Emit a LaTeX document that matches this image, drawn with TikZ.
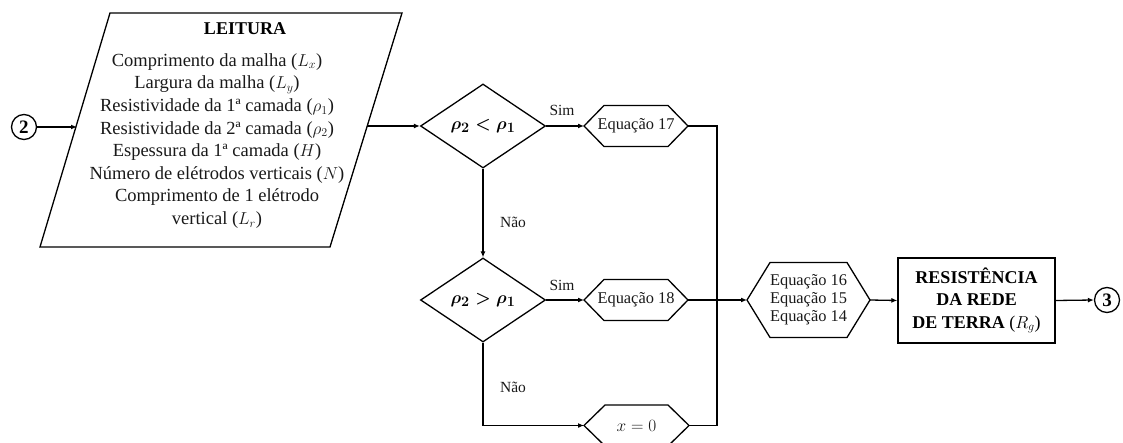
\documentclass[tikz,border=0pt]{standalone}
\usepackage{amsmath}
\usepackage{fontspec}
\setmainfont{Liberation Serif}
\usetikzlibrary{shapes.geometric,arrows.meta}

\tikzset{
  flow/.style={line width=1.3pt, draw=black},
  arrow/.style={flow, -{Latex[length=6pt,width=5pt]}},
  decision/.style={diamond, draw, line width=1.3pt, minimum width=125pt,
    minimum height=84pt, inner sep=0pt, aspect=1.49, font=\fontsize{19}{22}\selectfont\boldmath},
  process/.style={rectangle, inner sep=0pt, outer sep=0pt, text=black!90,
    font=\fontsize{16.4}{18}\selectfont, align=center},
  result/.style={rectangle, draw, line width=1.3pt, minimum width=157pt,
    minimum height=85pt, inner sep=0pt, align=center,
    font=\fontsize{18}{22.5}\selectfont\bfseries},
  connector/.style={circle, draw, line width=1.3pt, minimum size=25pt,
    inner sep=0pt, font=\fontsize{19}{22}\selectfont\bfseries},
  branch/.style={text=black!90, font=\fontsize{15.5}{18}\selectfont},
}

% hexagonal outline around a named node, #2 = depth of the pointed ends
\newcommand{\hexframe}[2]{%
  \draw[flow] (#1.west) -- ([xshift=#2]#1.north west) -- ([xshift=-#2]#1.north east)
    -- (#1.east) -- ([xshift=-#2]#1.south east) -- ([xshift=#2]#1.south west) -- cycle;}

\begin{document}
\begin{tikzpicture}[x=1pt,y=-1pt]
\useasboundingbox (0,0) rectangle (1123,443);

% input block (parallelogram)
\coordinate (pTL) at (110,13);
\coordinate (pTR) at (402,13);
\coordinate (pBR) at (330,247);
\coordinate (pBL) at (40,247);
\draw[flow] (pTL) -- (pTR) -- (pBR) -- (pBL) -- cycle;
\coordinate (inL) at (77,127);
\coordinate (inR) at (367,126);
\node[anchor=base, font=\fontsize{18}{22}\selectfont\bfseries] (title) at (245,35) {LEITURA};
\node[align=center, inner sep=0pt, text=black!90, font=\fontsize{18.5}{22.6}\selectfont] (data) at (217,141)
  {Comprimento da malha ($L_x$)\\
   Largura da malha ($L_y$)\\
   Resistividade da 1ª camada ($\rho_1$)\\
   Resistividade da 2ª camada ($\rho_2$)\\
   Espessura da 1ª camada ($H$)\\
   Número de elétrodos verticais ($N$)\\
   Comprimento de 1 elétrodo\\
   vertical ($L_r$)};

% connectors
\node[connector] (c2) at (24,127) {2};
\node[connector] (c3) at (1107,300) {3};

% decisions
\node[decision] (d1) at (483,126) {$\rho_2 < \rho_1$};
\node[decision] (d2) at (483,300) {$\rho_2 > \rho_1$};

% equation blocks
\node[process, minimum width=104pt, minimum height=41pt] (e17) at (636,126) {Equação 17};
\node[process, minimum width=104pt, minimum height=41pt] (e18) at (636,300) {Equação 18};
\node[process, minimum width=105pt, minimum height=41pt] (x0) at (636.5,425.5) {$x = 0$};
\node[process, minimum width=123pt, minimum height=75pt] (e3) at (808.5,300) {Equação 16\\Equação 15\\Equação 14};
\hexframe{e17}{20pt}
\hexframe{e18}{20pt}
\hexframe{x0}{21pt}
\hexframe{e3}{23pt}

% result block
\node[result] (rg) at (976.5,300.5) {RESISTÊNCIA\\DA REDE\\DE TERRA \mdseries($R_g$)};

% junction of the three branches
\coordinate (jb) at (717,425.5);

% flow lines
\draw[arrow] (c2) -- (inL);
\draw[arrow] (inR) -- (d1.west);
\draw[arrow] (d1.east) -- (e17.west);
\draw[arrow] (d1.south) -- (d2.north);
\draw[arrow] (d2.east) -- (e18.west);
\draw[arrow] (d2.south) |- (x0.west);
\draw[flow] (e17.east) -| (jb) -- (x0.east);
\draw[arrow] (e18.east) -- (e3.west);
\draw[arrow] (e3.east) -- (rg.west);
\draw[arrow] (rg.east) -- (c3.west);

% branch labels
\node[branch] (sim1) at (562,110) {Sim};
\node[branch] (nao1) at (513,222) {Não};
\node[branch] (sim2) at (562,285) {Sim};
\node[branch] (nao2) at (513,387) {Não};
\end{tikzpicture}
\end{document}
